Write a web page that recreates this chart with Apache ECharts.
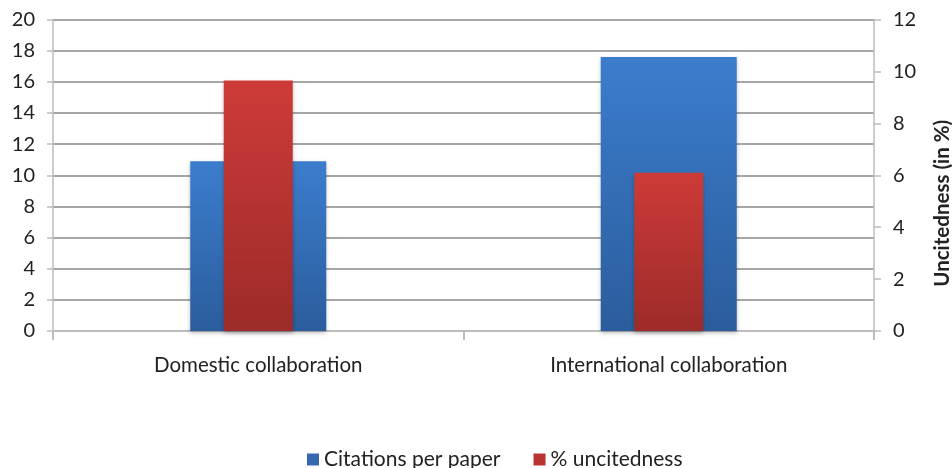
<!DOCTYPE html>
<html>
<head>
<meta charset="utf-8">
<script src="https://cdn.jsdelivr.net/npm/echarts@6/dist/echarts.min.js"></script>
<style>
  html, body { margin: 0; padding: 0; background: #fff; }
  #chart { width: 952px; height: 468px; }
</style>
</head>
<body>
<div id="chart"></div>
<script>
// Collaboration type vs. citation impact
const categories = ['Domestic collaboration', 'International collaboration'];
const citationsPerPaper = [10.9, 17.6];
const uncitednessPct = [9.65, 6.1];
const leftTicks = { min: 0, max: 20, interval: 2 };
const rightTicks = { min: 0, max: 12, interval: 2 };

const FONT = 'Lato, "Liberation Sans", sans-serif';

function vGrad(top, bottom) {
  return new echarts.graphic.LinearGradient(0, 0, 0, 1, [
    { offset: 0, color: top },
    { offset: 1, color: bottom }
  ]);
}

const chart = echarts.init(document.getElementById('chart'), null, { renderer: 'canvas' });

chart.setOption({
  animation: false,
  backgroundColor: '#ffffff',
  textStyle: { fontFamily: FONT },
  grid: { left: 53, right: 78, top: 19.5, bottom: 137, containLabel: false, outerBoundsMode: 'none' },
  legend: {
    top: 444,
    left: 302,
    itemWidth: 12,
    itemHeight: 12,
    itemGap: 33,
    icon: 'rect',
    textStyle: { fontFamily: FONT, fontSize: 21, color: '#222' },
    data: [
      { name: 'Citations per paper', itemStyle: { color: '#3668b0' } },
      { name: '% uncitedness', itemStyle: { color: '#b83331' } }
    ]
  },
  xAxis: [
    {
      type: 'category',
      data: categories,
      axisLine: { lineStyle: { color: '#bdbdbd', width: 2 } },
      axisTick: { show: true, length: 9, lineStyle: { color: '#bdbdbd', width: 2 } },
      axisLabel: { margin: 24, fontSize: 20.5, color: '#222', fontFamily: FONT },
      splitLine: { show: false }
    },
    {
      type: 'category',
      data: categories,
      show: false
    }
  ],
  yAxis: [
    {
      type: 'value',
      min: leftTicks.min,
      max: leftTicks.max,
      interval: leftTicks.interval,
      axisLine: { show: true, lineStyle: { color: '#bdbdbd', width: 1.5 } },
      axisTick: { show: true, length: 6, lineStyle: { color: '#bdbdbd', width: 1.5 } },
      axisLabel: { margin: 18, fontSize: 20, color: '#222', fontFamily: FONT },
      splitLine: { show: true, lineStyle: { color: '#a6a6a6', width: 2 } }
    },
    {
      type: 'value',
      position: 'right',
      min: rightTicks.min,
      max: rightTicks.max,
      interval: rightTicks.interval,
      name: 'Uncitedness (in %)',
      nameLocation: 'middle',
      nameRotate: 90,
      nameGap: 58,
      nameTextStyle: { fontSize: 20.5, fontWeight: 'bold', color: '#222', fontFamily: FONT, padding: [0, 56, 0, 0] },
      axisLine: { show: true, lineStyle: { color: '#bdbdbd', width: 1.5 } },
      axisTick: { show: true, length: 7, lineStyle: { color: '#bdbdbd', width: 1.5 } },
      axisLabel: { margin: 19, fontSize: 20, color: '#222', fontFamily: FONT },
      splitLine: { show: false }
    }
  ],
  series: [
    {
      name: 'Citations per paper',
      type: 'bar',
      xAxisIndex: 0,
      yAxisIndex: 0,
      barWidth: 136,
      data: citationsPerPaper,
      itemStyle: {
        color: vGrad('#3b7dcd', '#2b5d9d'),
        shadowColor: 'rgba(0,0,0,0.25)',
        shadowBlur: 4,
        shadowOffsetY: 2
      },
      z: 2
    },
    {
      name: '% uncitedness',
      type: 'bar',
      xAxisIndex: 1,
      yAxisIndex: 1,
      barWidth: 69,
      data: uncitednessPct,
      itemStyle: {
        color: vGrad('#cd3b38', '#9c2b29'),
        shadowColor: 'rgba(0,0,0,0.25)',
        shadowBlur: 4,
        shadowOffsetY: 2
      },
      z: 3
    }
  ]
});
</script>
</body>
</html>
